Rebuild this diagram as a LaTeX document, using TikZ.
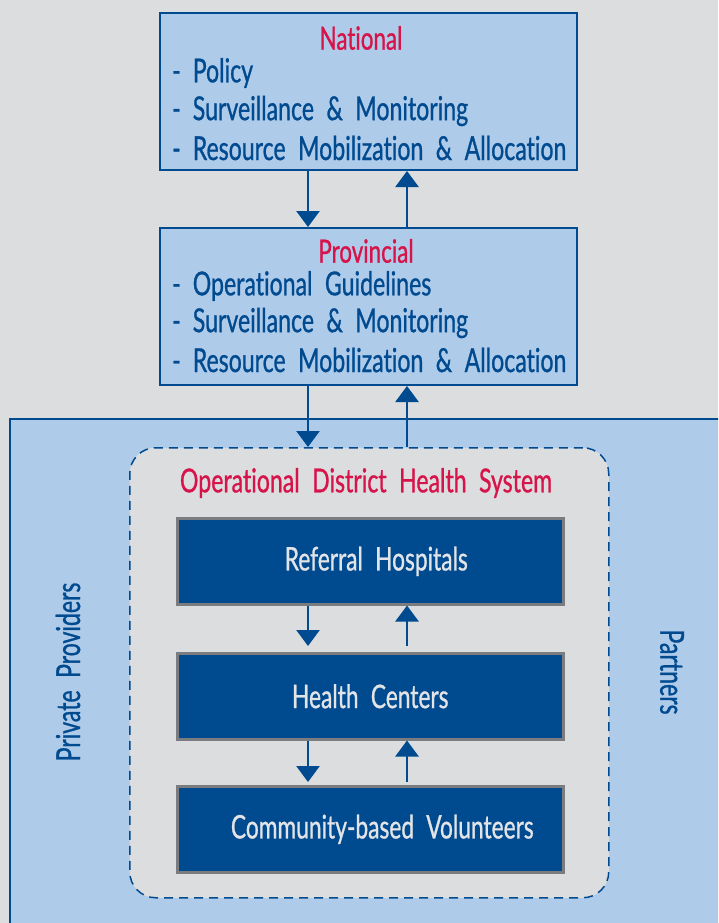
\documentclass[tikz,border=0pt]{standalone}
\usepackage{fontspec}
\setmainfont{Lato}[FakeStretch=0.7, WordSpace=2.1, Ligatures=NoCommon, FakeBold=0.8]
\usepackage{tikz}
\usetikzlibrary{arrows.meta}
\usetikzlibrary{positioning}

\definecolor{navy}{HTML}{004A8F}
\definecolor{skyfill}{HTML}{AFCBEA}
\definecolor{greyback}{HTML}{DCDDDF}
\definecolor{titlered}{HTML}{D7144A}
\definecolor{boxtext}{HTML}{E2E4E8}
\definecolor{boxedge}{HTML}{7A7C80}

\tikzset{
  levelbox/.style={draw=navy, fill=skyfill, line width=2pt, anchor=north west,
    minimum width=417pt, minimum height=157pt, inner sep=0pt},
  unitbox/.style={draw=boxedge, fill=navy, line width=2.5pt, anchor=north west,
    minimum width=386pt, minimum height=86pt, inner sep=0pt,
    text=boxtext, font=\fontsize{32.5}{34}\selectfont},
  heading/.style={text=titlered, font=\fontsize{32}{34}\selectfont, inner sep=0pt},
  item/.style={text=navy, font=\fontsize{33}{36}\selectfont, anchor=west, inner sep=0pt},
  sidelabel/.style={text=navy, font=\fontsize{33}{34}\selectfont, inner sep=0pt},
  flow/.style={navy, line width=2.5pt, -{Triangle[width=23pt,length=16pt]}}
}

\begin{document}
\begin{tikzpicture}[x=1pt, y=-1pt]
  % Background
  \useasboundingbox (0,0) rectangle (718,923);
  \clip (0,0) rectangle (718,923);
  \fill[greyback] (0,0) rectangle (718,923);

  % Arrow columns
  \coordinate (down) at (308,0);
  \coordinate (up)   at (407,0);

  % National level
  \node[levelbox] (national) at (159,12) {};
  \node[heading] (nattitle) at (361,38) {National};
  \node[item] (nat1) at (172,73)  {-\hspace{12pt}Policy};
  \node[item] (nat2) at (172,111) {-\hspace{12pt}Surveillance \& Monitoring};
  \node[item] (nat3) at (172,148) {-\hspace{12pt}Resource Mobilization \& Allocation};

  % Provincial level
  \node[levelbox] (provincial) at (159,227) {};
  \node[heading] (provtitle) at (366,251) {Provincial};
  \node[item] (prov1) at (172,286) {-\hspace{12pt}Operational Guidelines};
  \node[item] (prov2) at (172,323) {-\hspace{12pt}Surveillance \& Monitoring};
  \node[item] (prov3) at (172,360) {-\hspace{12pt}Resource Mobilization \& Allocation};

  % District field with private providers and partners
  \node[draw=navy, fill=skyfill, line width=2pt, anchor=north west,
    minimum width=760pt, minimum height=560pt] (field) at (9,418) {};
  \node[sidelabel, rotate=90] (private) at (68,672) {Private Providers};
  \node[sidelabel, rotate=-90] (partners) at (672,672) {Partners};

  % Operational district health system
  \node[draw=navy, fill=greyback, line width=1.5pt, dash pattern=on 9pt off 6pt,
    rounded corners=26pt, anchor=north west, minimum width=479pt,
    minimum height=450pt] (district) at (129,447) {};
  \node[heading, font=\fontsize{33}{34}\selectfont] (disttitle) at (366,483)
    {Operational District Health System};

  \node[unitbox] (hospitals) at (176,517) {\hspace{12pt}Referral Hospitals};
  \node[unitbox] (centers)   at (176,652) {Health Centers};
  \node[unitbox] (volunteers) at (176,785) {\hspace{24pt}Community-based Volunteers};

  % Flows between levels
  \draw[flow] (national.south -| down) -- (provincial.north -| down);
  \draw[flow] (provincial.north -| up) -- (national.south -| up);
  \draw[flow] (provincial.south -| down) -- (district.north -| down);
  \draw[flow] (district.north -| up) -- (provincial.south -| up);
  \draw[flow] (hospitals.south -| down) -- ([yshift=6pt]centers.north -| down);
  \draw[flow] ([yshift=6pt]centers.north -| up) -- (hospitals.south -| up);
  \draw[flow] (centers.south -| down) -- ([yshift=3pt]volunteers.north -| down);
  \draw[flow] ([yshift=3pt]volunteers.north -| up) -- (centers.south -| up);
\end{tikzpicture}
\end{document}
